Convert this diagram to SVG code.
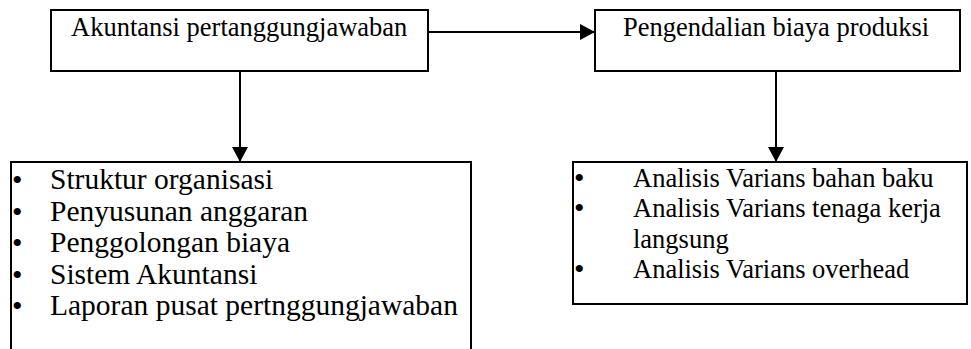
<svg xmlns="http://www.w3.org/2000/svg" width="971" height="349" viewBox="0 0 971 349">
  <style>
    .box { fill: #fff; stroke: #000; stroke-width: 2; }
    .edge { fill: none; stroke: #000; stroke-width: 2; }
    text { font-family: "Liberation Serif", "Times New Roman", serif; fill: #000; }
    .t { font-size: 26.5px; }
    .l { font-size: 29.5px; }
    .b { font-size: 30px; }
  </style>
  <defs>
    <marker id="arrow" viewBox="0 0 15 16" refX="15" refY="8" markerWidth="15" markerHeight="16" markerUnits="userSpaceOnUse" orient="auto">
      <path d="M0,0 L15,8 L0,16 Z" fill="#000"/>
    </marker>
  </defs>

  <g id="connectors">
    <line class="edge" x1="428" y1="32" x2="595" y2="32" marker-end="url(#arrow)"/>
    <line class="edge" x1="240" y1="71" x2="240" y2="162" marker-end="url(#arrow)"/>
    <line class="edge" x1="776" y1="71" x2="776" y2="162" marker-end="url(#arrow)"/>
  </g>

  <g id="akuntansi">
    <rect class="box" x="51" y="10" width="377" height="61"/>
    <text class="t" x="71" y="36">Akuntansi pertanggungjawaban</text>
  </g>

  <g id="pengendalian">
    <rect class="box" x="595" y="10" width="365" height="61"/>
    <text class="t" x="623" y="36">Pengendalian biaya produksi</text>
  </g>

  <g id="komponen-akuntansi">
    <rect class="box" x="11" y="162" width="460" height="200"/>
    <g class="b">
      <text x="12" y="190">•</text>
      <text x="12" y="221.5">•</text>
      <text x="12" y="253">•</text>
      <text x="12" y="284.5">•</text>
      <text x="12" y="316">•</text>
    </g>
    <g class="l">
      <text x="50" y="189">Struktur organisasi</text>
      <text x="50" y="220.5">Penyusunan anggaran</text>
      <text x="50" y="252">Penggolongan biaya</text>
      <text x="50" y="283.5">Sistem Akuntansi</text>
      <text x="50" y="315">Laporan pusat pertnggungjawaban</text>
    </g>
  </g>

  <g id="analisis-varians">
    <rect class="box" x="573" y="162" width="394" height="142"/>
    <g class="b">
      <text x="574" y="188">•</text>
      <text x="574" y="218.3">•</text>
      <text x="574" y="279">•</text>
    </g>
    <g class="t">
      <text x="633" y="187">Analisis Varians bahan baku</text>
      <text x="633" y="217.3">Analisis Varians tenaga kerja</text>
      <text x="633" y="247.6">langsung</text>
      <text x="633" y="278">Analisis Varians overhead</text>
    </g>
  </g>
</svg>
